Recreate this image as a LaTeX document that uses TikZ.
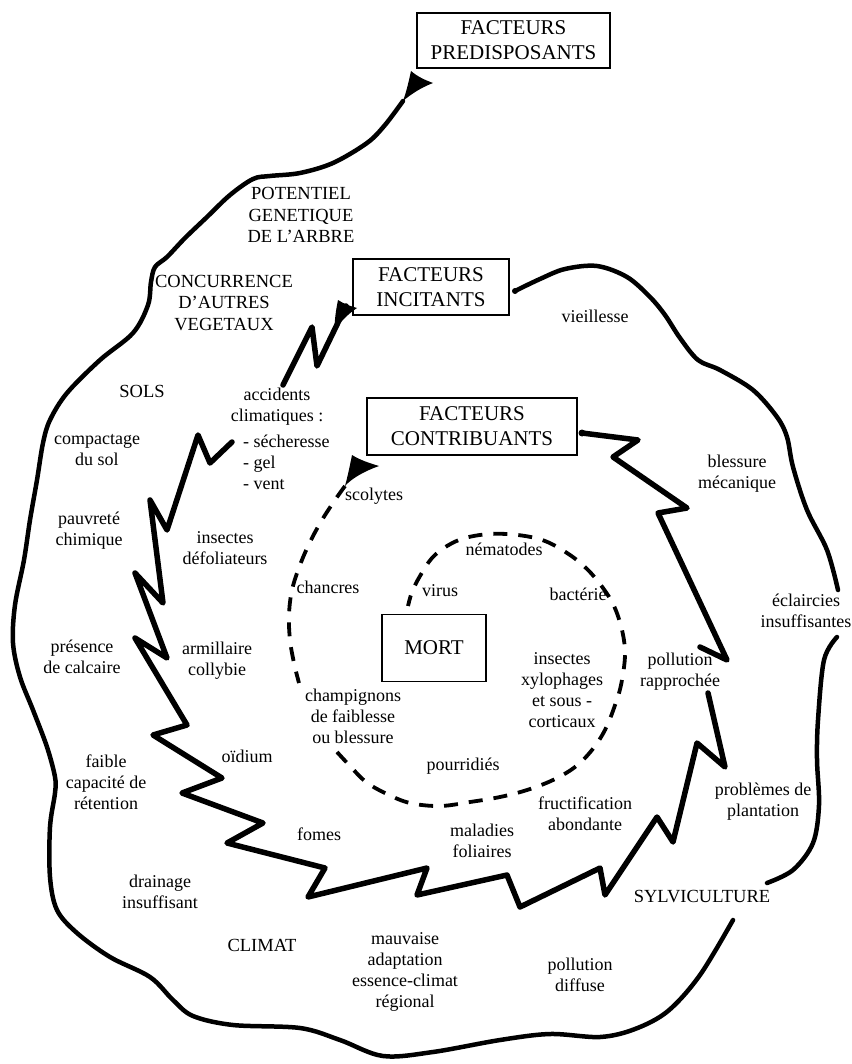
\documentclass[tikz,border=0pt]{standalone}
\usepackage{fontspec}
\setmainfont{Liberation Serif}
\begin{document}
\begin{tikzpicture}[x=1pt,y=-1pt,
  lbl/.style={font=\fontsize{18}{21}\selectfont, align=center, inner sep=0pt},
  capl/.style={font=\fontsize{18.5}{21.5}\selectfont, align=center, inner sep=0pt},
  fbox/.style={draw, line width=1.2pt, font=\fontsize{21}{25}\selectfont, align=center, inner sep=0pt},
  outerline/.style={line width=4.5pt, line cap=round, line join=round},
  zigline/.style={line width=5.5pt, line cap=round, line join=round},
  dashline/.style={line width=3.8pt, dash pattern=on 14pt off 11pt, line cap=butt}]
\useasboundingbox (0,0) rectangle (851,1064);

% boxes
\node[fbox, minimum width=193pt, minimum height=55pt] (pred) at (513.5,40.5) {FACTEURS\\PREDISPOSANTS};
\node[fbox, minimum width=156pt, minimum height=56pt] (inci) at (431,287) {FACTEURS\\INCITANTS};
\node[fbox, minimum width=210pt, minimum height=57pt] (contrib) at (472,426.5) {FACTEURS\\CONTRIBUANTS};
\node[fbox, minimum width=104pt, minimum height=67pt] (mort) at (434,648) {MORT};

% outer spiral (facteurs prédisposants)
\coordinate (pA) at (403,101);
\fill (411,71) .. controls (418,77) and (425,80) .. (433,83) .. controls (420,88) and (410,95) .. (pA) .. controls (407,90) and (409,80) .. (411,71) -- cycle;
\draw[outerline] plot[smooth, tension=0.55] coordinates {(pA) (385,125) (367,143) (333,163) (300,173) (270,176) (253,179) (230,195) (207,217) (185,238) (167,257) (155,267) (151,282) (148,305) (133,333) (100,360) (67,393) (50,420) (43,443) (37,480) (30,520) (24,560) (15,605) (13,643) (20,677) (33,710) (47,747) (55,777) (55,793) (50,827) (50,877) (57,910) (77,933) (110,957) (150,977) (173,1000) (193,1016) (233,1025) (300,1028) (340,1040) (383,1056) (433,1052) (500,1040) (550,1034) (600,1037) (635,1029) (668,1011) (700,975) (733,920)};
\draw[outerline] plot[smooth, tension=0.55] coordinates {(767,883) (793,870) (813,843) (819,805) (817,760) (818,720) (824,660) (837,637)};
\coordinate (pB) at (515,291);
\draw[outerline] plot[smooth, tension=0.55] coordinates {(838,590) (827,550) (807,510) (793,467) (787,437) (777,417) (753,390) (720,370) (698,360) (680,338) (665,315) (650,297) (627,277) (597,266) (565,269) (540,279) (pB)};
\fill (pB) circle (3pt);

% middle zigzag spiral (facteurs incitants)
\coordinate (iA) at (335,330);
\fill (338,300) .. controls (344,304) and (350,306) .. (357,308) .. controls (348,314) and (340,322) .. (iA) .. controls (334,322) and (336,310) .. (338,300) -- cycle;
\draw[zigline] (346,306) -- (317,366) -- (312,327) -- (283,385);
\draw[zigline] (232,442) -- (210,463) -- (198,435) -- (167,530) -- (150,500) -- (163,603) -- (135,573) -- (167,658) -- (135,638) -- (187,725) -- (153,735) -- (222,778) -- (182,793) -- (263,823) -- (227,843) -- (325,868) -- (308,897) -- (427,868) -- (417,895) -- (507,875) -- (520,907) -- (600,868) -- (605,895) -- (657,817) -- (673,842) -- (697,743) -- (725,767) -- (708,693);
\coordinate (iB) at (582,433);
\draw[zigline] (700,647) -- (727,660) -- (658,513) -- (687,508) -- (613,457) -- (638,440) -- (iB);
\fill (iB) circle (3.5pt);

% dashed spiral (facteurs contribuants)
\coordinate (cA) at (345,486);
\fill (352,455) .. controls (360,460) and (369,463) .. (379,466) .. controls (365,471) and (352,478) .. (cA) .. controls (348,475) and (350,465) .. (352,455) -- cycle;
\draw[dashline] plot[smooth, tension=0.6] coordinates {(cA) (335,500) (322,520) (310,542) (300,565) (292,590) (289,615) (290,640) (294,663) (299,683)};
\coordinate (cB) at (408,606);
\draw[dashline] plot[smooth, tension=0.6] coordinates {(337,752) (350,766) (366,782) (387,794) (410,803) (440,806) (470,802) (500,797) (527,790) (553,780) (575,767) (592,750) (605,730) (614,708) (621,685) (625,655) (622,630) (614,606) (603,588) (588,570) (570,555) (545,541) (518,535) (490,534) (465,538) (447,546) (432,558) (420,576) (412,592) (cB)};

% outer labels
\node[capl] (pot) at (301,215) {POTENTIEL\\GENETIQUE\\DE L’ARBRE};
\node[capl] (conc) at (224,303) {CONCURRENCE\\D’AUTRES\\VEGETAUX};
\node[capl] (sols) at (142,391) {SOLS};
\node[lbl] (compact) at (97,450) {compactage\\du sol};
\node[lbl] (pauv) at (89,531) {pauvreté\\chimique};
\node[lbl] (pres) at (82,657) {présence\\de calcaire};
\node[lbl] (faible) at (106,782) {faible\\capacité de\\rétention};
\node[lbl] (drain) at (160,892) {drainage\\insuffisant};
\node[capl] (climat) at (262,945) {CLIMAT};
\node[lbl] (mauv) at (405,972) {mauvaise\\adaptation\\essence-climat\\régional};
\node[lbl] (polld) at (580,975) {pollution\\diffuse};
\node[capl] (sylvi) at (702,897) {SYLVICULTURE};
\node[lbl] (probl) at (763,802) {problèmes de\\plantation};
\node[lbl] (eclair) at (806,611) {éclaircies\\insuffisantes};
\node[lbl] (bless) at (737,474) {blessure\\mécanique};
\node[lbl] (vieil) at (595,316) {vieillesse};

% middle labels
\node[lbl] (acc) at (277,407) {accidents\\climatiques :};
\node[lbl, anchor=west, align=left] (accl) at (243,462) {- sécheresse\\- gel\\- vent};
\node[lbl] (insdef) at (225,548) {insectes\\défoliateurs};
\node[lbl] (armil) at (217,661) {armillaire\\collybie};
\node[lbl] (oid) at (247,756) {oïdium};
\node[lbl] (fomes) at (319,834) {fomes};
\node[lbl] (malad) at (482,841) {maladies\\foliaires};
\node[lbl] (fruct) at (585,814) {fructification\\abondante};
\node[lbl] (pollr) at (680,672) {pollution\\rapprochée};

% inner labels
\node[lbl] (scol) at (374,496) {scolytes};
\node[lbl] (chanc) at (328,587) {chancres};
\node[lbl] (virus) at (440,591) {virus};
\node[lbl] (nema) at (504,549) {nématodes};
\node[lbl] (bact) at (578,594) {bactérie};
\node[lbl] (insxy) at (562,690) {insectes\\xylophages\\et sous -\\corticaux};
\node[lbl] (champ) at (353,716) {champignons\\de faiblesse\\ou blessure};
\node[lbl] (pourr) at (463,766) {pourridiés};
\end{tikzpicture}
\end{document}
